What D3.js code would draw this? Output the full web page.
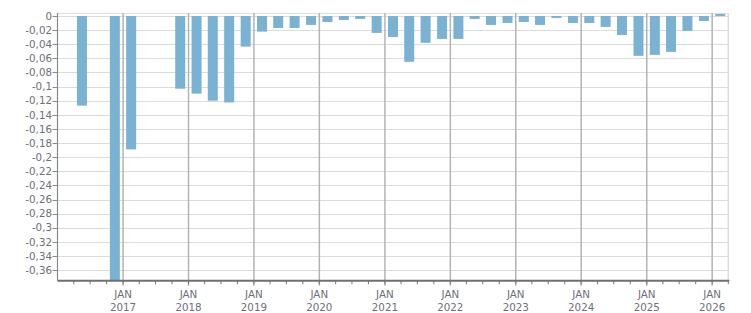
<!DOCTYPE html>
<html><head><meta charset="utf-8">
<script src="https://cdn.jsdelivr.net/npm/d3@7"></script>
<style>body{margin:0;background:#fff}svg{display:block}text{font-family:"DejaVu Sans",Verdana,sans-serif;font-size:10.3px;fill:#6e6e7a}</style>
</head><body><svg id="c" width="751" height="313"></svg>
<script>
const quarters = ["2016Q2","2016Q4","2017Q1","2017Q4","2018Q1","2018Q2","2018Q3","2018Q4","2019Q1","2019Q2","2019Q3","2019Q4","2020Q1","2020Q2","2020Q3","2020Q4","2021Q1","2021Q2","2021Q3","2021Q4","2022Q1","2022Q2","2022Q3","2022Q4","2023Q1","2023Q2","2023Q3","2023Q4","2024Q1","2024Q2","2024Q3","2024Q4","2025Q1","2025Q2","2025Q3","2025Q4","2026Q1"];
const values = [-0.127,-0.38,-0.189,-0.103,-0.110,-0.120,-0.1225,-0.0434,-0.0222,-0.017,-0.017,-0.0127,-0.0085,-0.0057,-0.0042,-0.024,-0.0297,-0.065,-0.038,-0.0325,-0.0325,-0.0042,-0.0127,-0.0099,-0.0085,-0.0127,-0.0028,-0.0099,-0.0099,-0.0155,-0.0269,-0.0565,-0.0551,-0.0509,-0.0212,-0.0071,0.0028];
const yTicks = [0,-0.02,-0.04,-0.06,-0.08,-0.1,-0.12,-0.14,-0.16,-0.18,-0.2,-0.22,-0.24,-0.26,-0.28,-0.3,-0.32,-0.34,-0.36];
const years = [2017,2018,2019,2020,2021,2022,2023,2024,2025,2026];

const svg = d3.select("#c");
const L = 57.5, R = 728.3, T = 13, B = 280.7;
const x = d3.scaleTime().domain([new Date(2016,0,1), new Date(2026,3,1)]).range([L, R]);
const y = d3.scaleLinear().domain([-0.375, 0.0042]).range([B, T]);
const qStart = q => new Date(+q.slice(0,4), (+q.slice(5)-1)*3, 1);
const qEnd = q => d3.timeMonth.offset(qStart(q), 3);

const g = svg.append("g");
// horizontal grid
g.selectAll(".hg").data(yTicks.concat([0.0042])).join("line")
  .attr("x1", L).attr("x2", R).attr("y1", d=>Math.round(y(d))+0.5).attr("y2", d=>Math.round(y(d))+0.5)
  .attr("stroke", "#dcdcdc").attr("stroke-width", 1);
// right border
g.append("line").attr("x1", R).attr("x2", R).attr("y1", T).attr("y2", B).attr("stroke", "#dcdcdc").attr("stroke-width", 1.5);
// vertical year grid
g.selectAll(".vg").data(years).join("line")
  .attr("x1", d=>x(new Date(d,0,1))).attr("x2", d=>x(new Date(d,0,1)))
  .attr("y1", T).attr("y2", B+5).attr("stroke", "#b4b4b4").attr("stroke-width", 1.5);

// bars
const bw = 10;
g.selectAll(".bar").data(quarters.map((q,i)=>({q, v: Math.max(values[i], -0.375)}))).join("rect")
  .attr("x", d => (x(qStart(d.q)) + x(qEnd(d.q)))/2 - bw/2)
  .attr("width", bw)
  .attr("y", d => y(Math.max(0, d.v)))
  .attr("height", d => Math.abs(y(d.v) - y(0)))
  .attr("fill", "#7ab2d4");

// x axis
const qt = d3.timeMonth.every(3).range(new Date(2016,3,1), new Date(2026,3,2));
g.selectAll(".mt").data(qt).join("line")
  .attr("x1", d=>x(d)).attr("x2", d=>x(d)).attr("y1", B).attr("y2", B+3.5)
  .attr("stroke", "#777").attr("stroke-width", 1);
g.append("line").attr("x1", L).attr("x2", R+1).attr("y1", B).attr("y2", B).attr("stroke", "#707070").attr("stroke-width", 2);
// left axis
g.append("line").attr("x1", L).attr("x2", L).attr("y1", T).attr("y2", B).attr("stroke", "#8a8a8a").attr("stroke-width", 1.2);
g.selectAll(".yt").data(yTicks).join("line")
  .attr("x1", L-5).attr("x2", L).attr("y1", d=>Math.round(y(d))+0.5).attr("y2", d=>Math.round(y(d))+0.5)
  .attr("stroke", "#8a8a8a");
const fmt = d => d === 0 ? "0" : String(d).replace(".", ",");
g.selectAll(".yl").data(yTicks).join("text")
  .attr("x", L-5.5).attr("y", d=>y(d)).attr("dy", "0.36em").attr("text-anchor", "end").text(fmt);
const xl = g.selectAll(".xl").data(years).join("text")
  .attr("text-anchor", "middle").attr("x", d=>x(new Date(d,0,1)));
xl.append("tspan").attr("x", d=>x(new Date(d,0,1))).attr("y", 298).text("JAN");
xl.append("tspan").attr("x", d=>x(new Date(d,0,1))).attr("y", 311).text(d=>d);
</script></body></html>
